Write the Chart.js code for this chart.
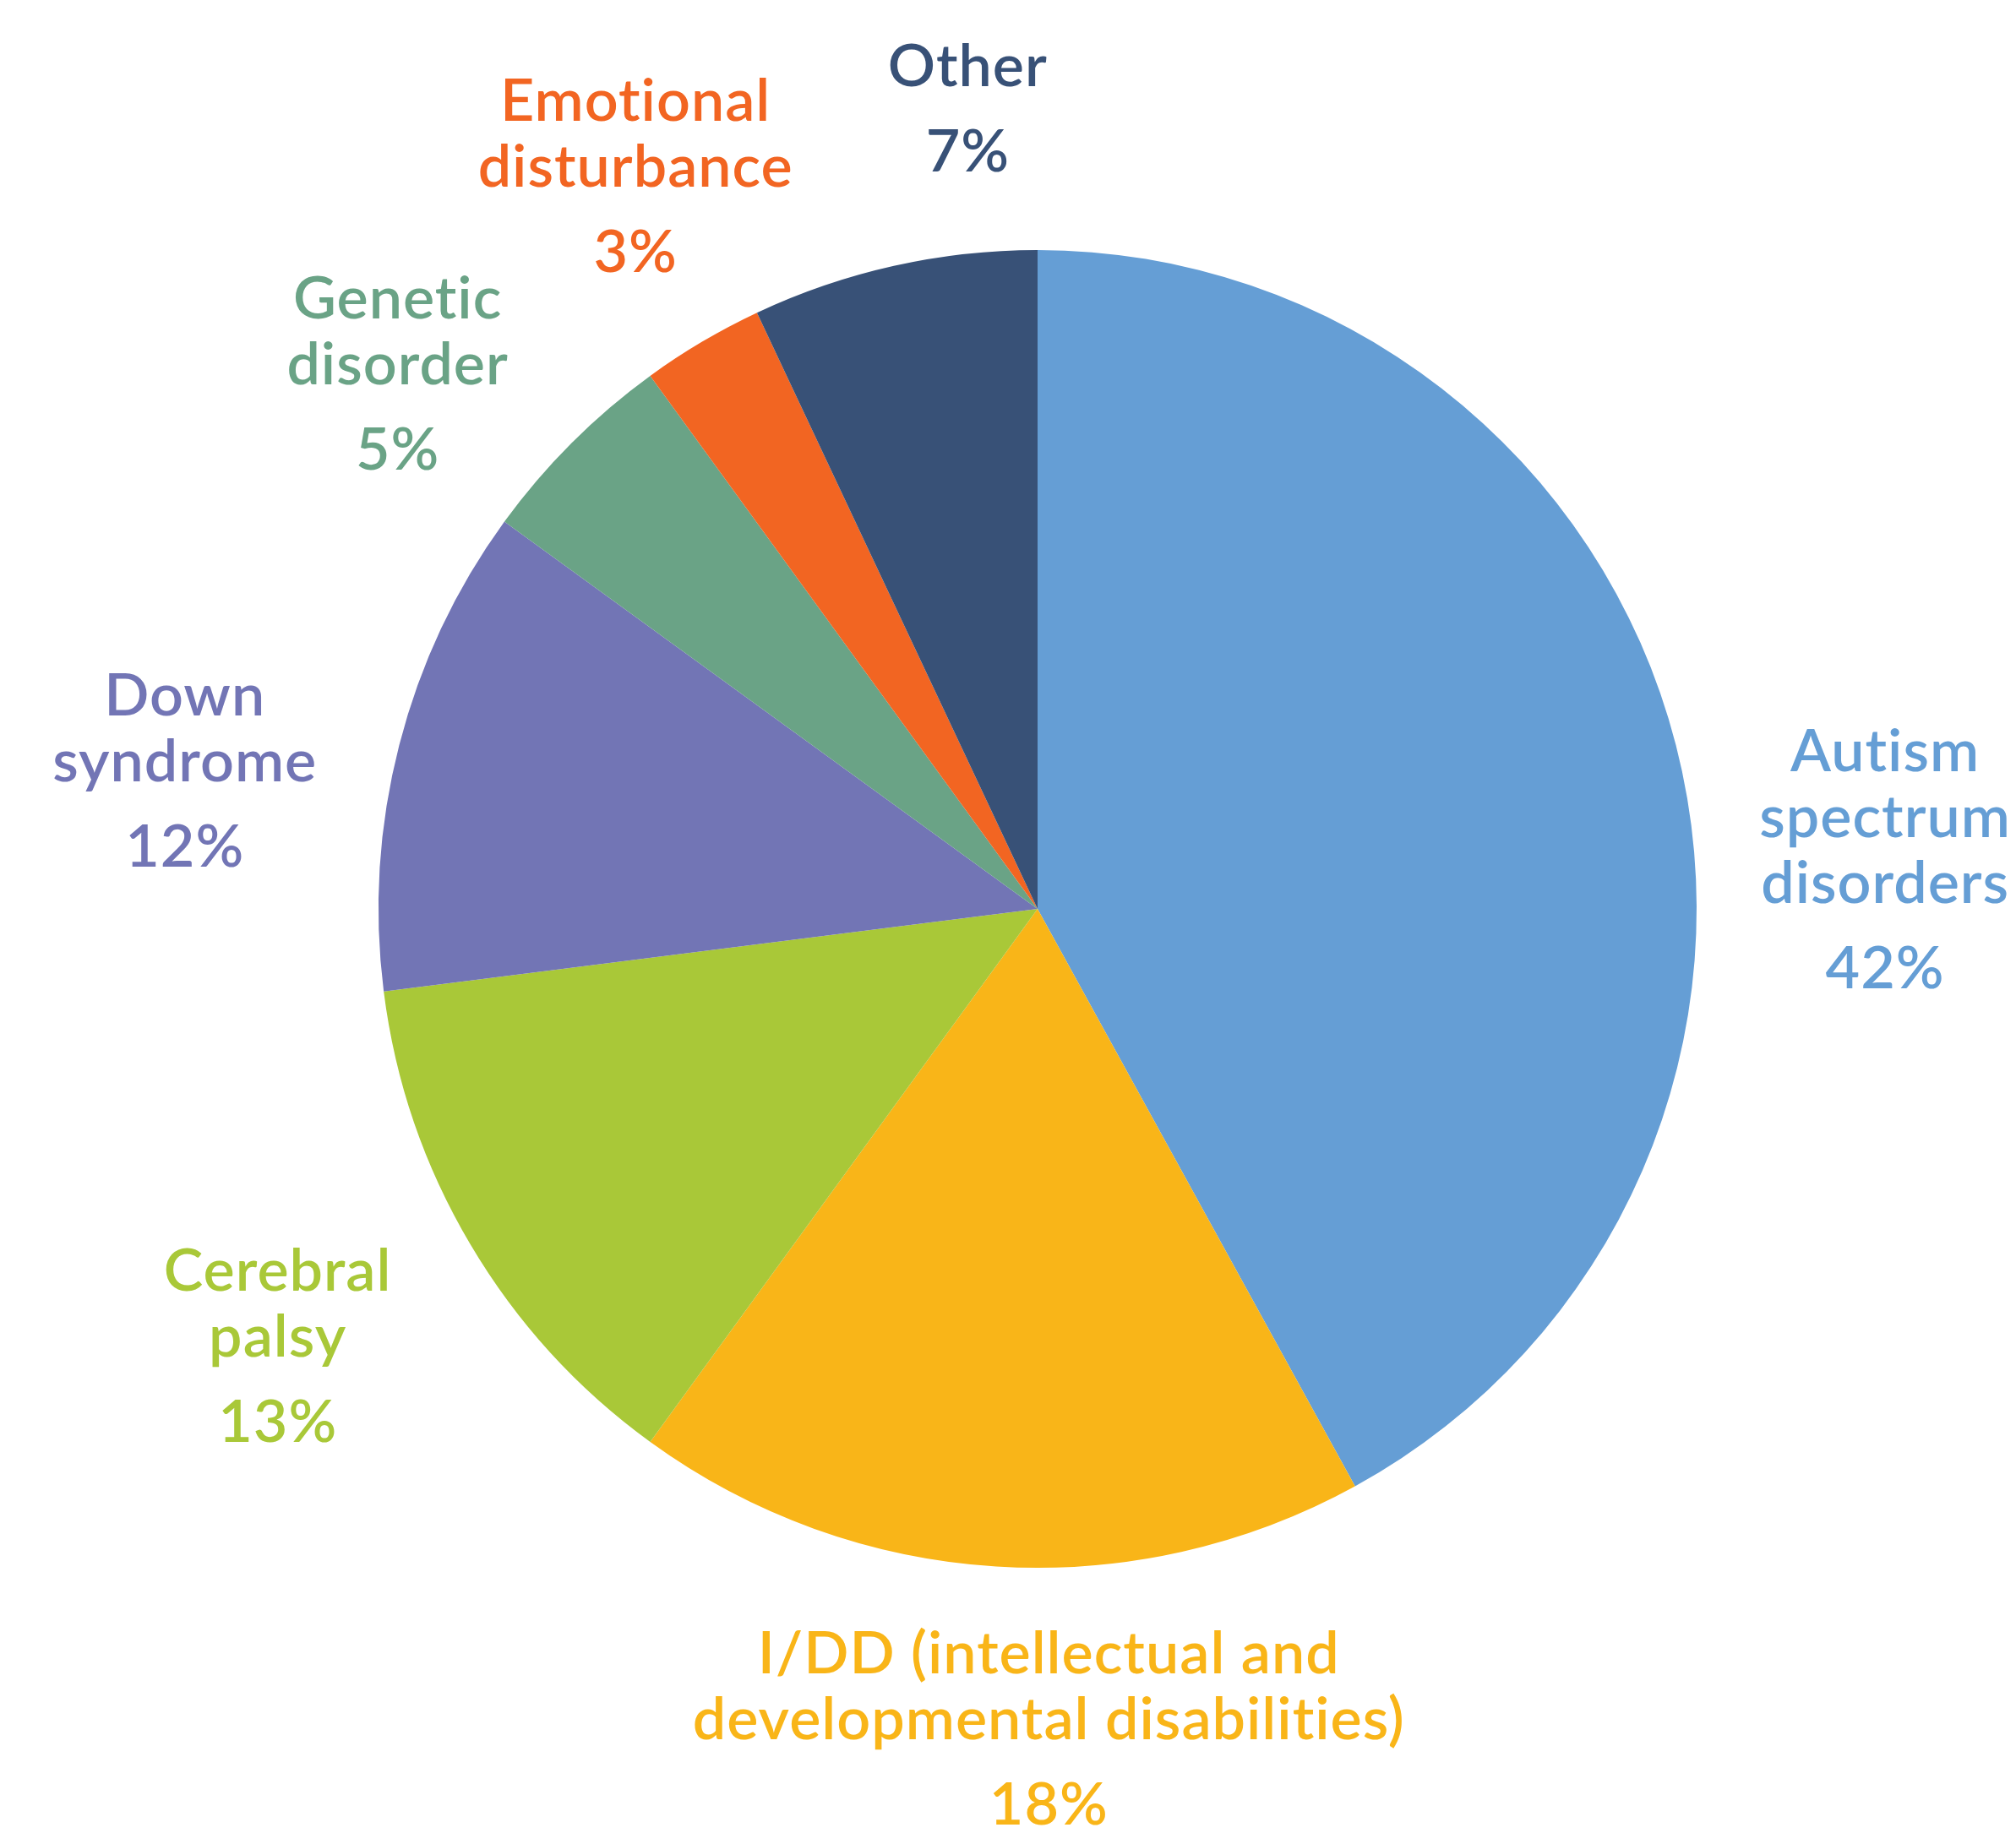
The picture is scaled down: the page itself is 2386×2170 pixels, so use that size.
<!DOCTYPE html>
<html>
<head>
<meta charset="utf-8">
<script src="https://cdn.jsdelivr.net/npm/chart.js@4"></script>
<style>
  html, body { margin: 0; padding: 0; background: #ffffff; }
  canvas { display: block; }
</style>
</head>
<body>
<canvas id="myChart" width="2386" height="2170"></canvas>
<script>
// data
const categories = [
  ['Autism', 'spectrum', 'disorders'],
  ['I/DD (intellectual and', 'developmental disabilities)'],
  ['Cerebral', 'palsy'],
  ['Down', 'syndrome'],
  ['Genetic', 'disorder'],
  ['Emotional', 'disturbance'],
  ['Other']
];
const shares = [42, 18, 13, 12, 5, 3, 7];
const sliceColors = ['#659ed5', '#f9b518', '#a9c838', '#7275b5', '#6aa386', '#f26522', '#385177'];

// label anchor (centre x, first baseline) relative to the pie centre, in radii
const labelSpots = [
  [1.286, -0.209],
  [0.017, 1.160],
  [-1.153, 0.579],
  [-1.294, -0.294],
  [-0.971, -0.896],
  [-0.610, -1.196],
  [-0.106, -1.249]
];

const FONT = '600 70px Lato, "Noto Sans", sans-serif';
const LINE_GAP = 78;
const PCT_GAP = 101;

// 畫外側標籤
const outerLabels = {
  id: 'outerLabels',
  afterDatasetsDraw(chart) {
    const ctx = chart.ctx;
    const meta = chart.getDatasetMeta(0);
    ctx.save();
    ctx.font = FONT;
    ctx.letterSpacing = '1px';
    ctx.textAlign = 'center';
    ctx.textBaseline = 'alphabetic';
    meta.data.forEach((arc, i) => {
      const r = arc.outerRadius;
      const x = arc.x + labelSpots[i][0] * r;
      let y = arc.y + labelSpots[i][1] * r;
      ctx.fillStyle = sliceColors[i];
      categories[i].forEach((line, k) => {
        ctx.fillText(line, x, y + k * LINE_GAP);
      });
      y += (categories[i].length - 1) * LINE_GAP + PCT_GAP;
      ctx.fillText(shares[i] + '%', x, y);
    });
    ctx.restore();
  }
};

const ctx = document.getElementById('myChart').getContext('2d');
const myChart = new Chart(ctx, {
  type: 'pie',
  data: {
    labels: categories.map(c => c.join(' ')),
    datasets: [{
      data: shares,
      backgroundColor: sliceColors,
      borderWidth: 0
    }]
  },
  options: {
    responsive: false,
    animation: false,
    layout: { padding: { left: 448, right: 378, top: 296, bottom: 314 } },
    plugins: {
      legend: { display: false },
      tooltip: { enabled: false }
    }
  },
  plugins: [outerLabels]
});
</script>
</body>
</html>
